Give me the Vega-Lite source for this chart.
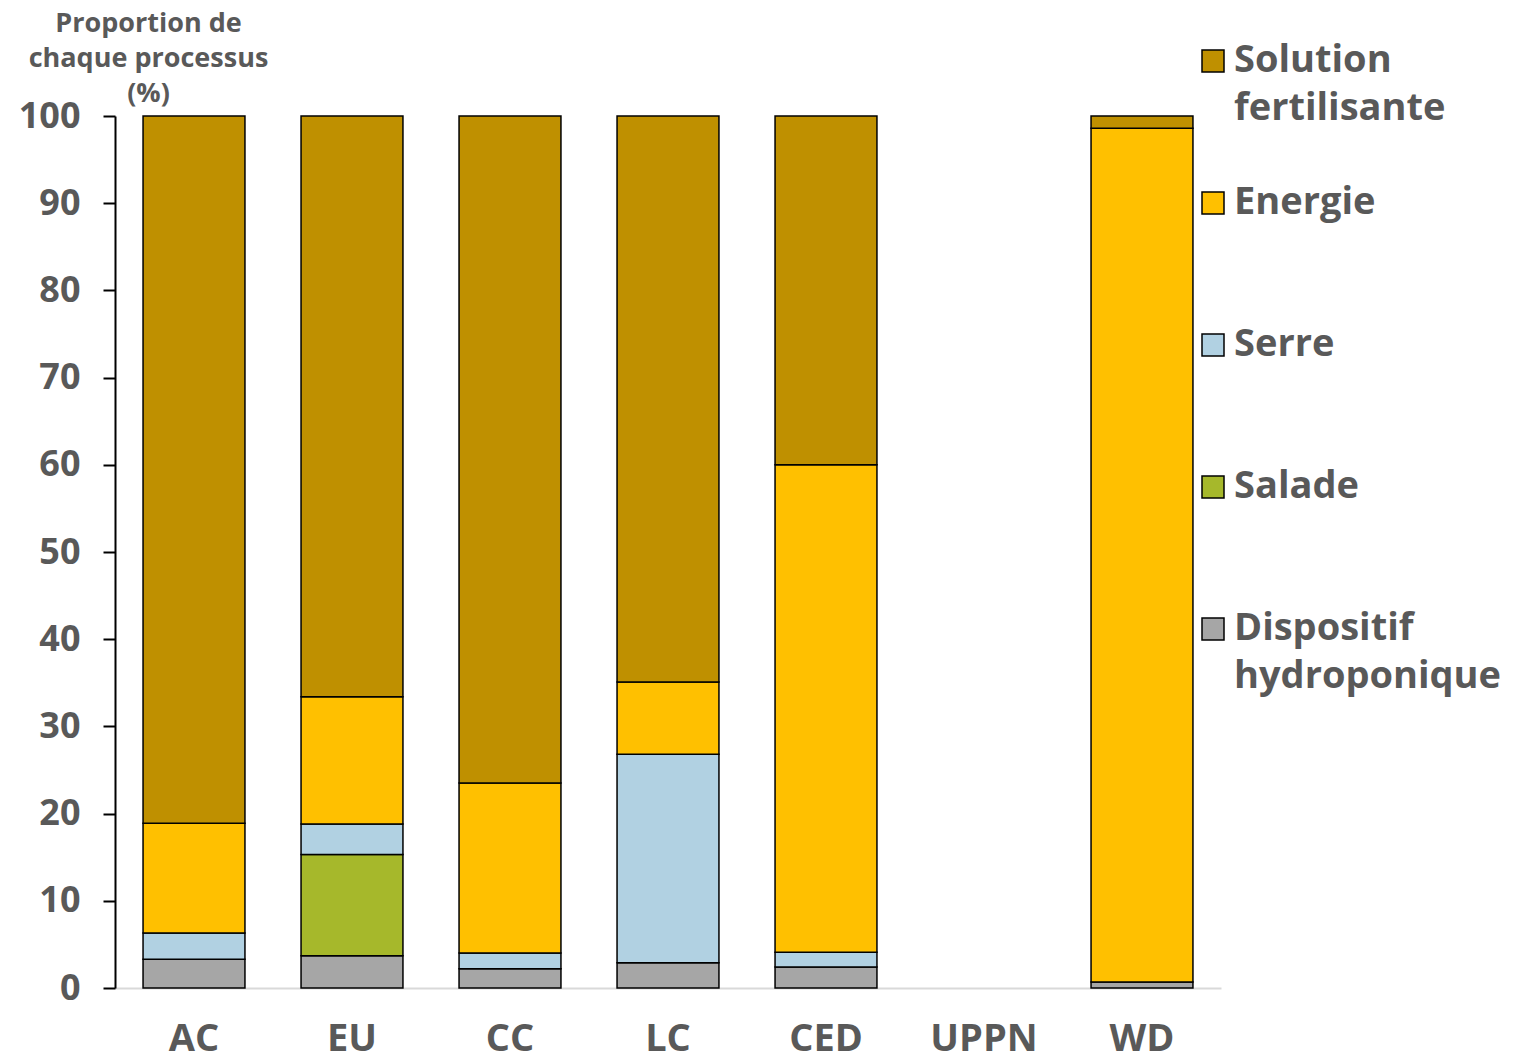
{
  "$schema": "https://vega.github.io/schema/vega-lite/v6.json",
  "autosize": {"type": "none"},
  "padding": {"left": 115, "top": 116, "right": 297, "bottom": 73},
  "width": 1106,
  "height": 872,
  "background": "white",
  "data": {
    "values": [
      {"site": "AC", "processus": "Dispositif hydroponique", "valeur": 3.3},
      {"site": "AC", "processus": "Serre", "valeur": 3.0},
      {"site": "AC", "processus": "Energie", "valeur": 12.6},
      {"site": "AC", "processus": "Solution fertilisante", "valeur": 81.1},
      {"site": "EU", "processus": "Dispositif hydroponique", "valeur": 3.7},
      {"site": "EU", "processus": "Salade", "valeur": 11.6},
      {"site": "EU", "processus": "Serre", "valeur": 3.5},
      {"site": "EU", "processus": "Energie", "valeur": 14.6},
      {"site": "EU", "processus": "Solution fertilisante", "valeur": 66.6},
      {"site": "CC", "processus": "Dispositif hydroponique", "valeur": 2.2},
      {"site": "CC", "processus": "Serre", "valeur": 1.8},
      {"site": "CC", "processus": "Energie", "valeur": 19.5},
      {"site": "CC", "processus": "Solution fertilisante", "valeur": 76.5},
      {"site": "LC", "processus": "Dispositif hydroponique", "valeur": 2.9},
      {"site": "LC", "processus": "Serre", "valeur": 23.9},
      {"site": "LC", "processus": "Energie", "valeur": 8.3},
      {"site": "LC", "processus": "Solution fertilisante", "valeur": 64.9},
      {"site": "CED", "processus": "Dispositif hydroponique", "valeur": 2.4},
      {"site": "CED", "processus": "Serre", "valeur": 1.7},
      {"site": "CED", "processus": "Energie", "valeur": 55.9},
      {"site": "CED", "processus": "Solution fertilisante", "valeur": 40.0},
      {"site": "WD", "processus": "Dispositif hydroponique", "valeur": 0.7},
      {"site": "WD", "processus": "Energie", "valeur": 97.9},
      {"site": "WD", "processus": "Solution fertilisante", "valeur": 1.4}
    ]
  },
  "transform": [
    {"calculate": "indexof(['Dispositif hydroponique', 'Salade', 'Serre', 'Energie', 'Solution fertilisante'], datum.processus)", "as": "ordre_empilement"}
  ],
  "mark": {"type": "bar", "stroke": "black", "strokeWidth": 1.5},
  "encoding": {
    "x": {
      "field": "site",
      "type": "nominal",
      "scale": {"domain": ["AC", "EU", "CC", "LC", "CED", "UPPN", "WD"], "paddingInner": 0.355, "paddingOuter": 0.1775},
      "axis": {
        "title": null,
        "labelAngle": 0,
        "labelFont": "Open Sans",
        "labelFontSize": 38,
        "labelFontWeight": "bold",
        "labelColor": "#595959",
        "labelPadding": 32,
        "ticks": false,
        "tickSize": 0,
        "domainColor": "#D9D9D9",
        "domainWidth": 2
      }
    },
    "y": {
      "field": "valeur",
      "type": "quantitative",
      "stack": "zero",
      "scale": {"domain": [0, 100], "nice": false},
      "axis": {
        "title": ["Proportion de", "chaque processus", "(%)"],
        "titleAngle": 0,
        "titleAlign": "center",
        "titleBaseline": "alphabetic",
        "titleX": 33,
        "titleY": -85,
        "titleLineHeight": 35,
        "titleFont": "Open Sans",
        "titleFontSize": 27,
        "titleFontWeight": "bold",
        "titleColor": "#595959",
        "values": [0, 10, 20, 30, 40, 50, 60, 70, 80, 90, 100],
        "grid": false,
        "domainColor": "black",
        "domainWidth": 2,
        "tickColor": "black",
        "tickWidth": 2,
        "tickSize": 12,
        "labelFont": "Open Sans",
        "labelFontSize": 36,
        "labelFontWeight": "bold",
        "labelColor": "#595959",
        "labelPadding": 23
      }
    },
    "order": {"field": "ordre_empilement", "type": "quantitative", "sort": "ascending"},
    "color": {
      "field": "processus",
      "type": "nominal",
      "sort": null,
      "scale": {
        "domain": ["Solution fertilisante", "Energie", "Serre", "Salade", "Dispositif hydroponique"],
        "range": ["#BF9000", "#FFC000", "#B1D1E2", "#A6B82B", "#A6A6A6"]
      },
      "legend": {
        "title": null,
        "orient": "none",
        "legendX": 1079,
        "legendY": -126,
        "padding": 0,
        "clipHeight": 142,
        "rowPadding": 0,
        "symbolType": "square",
        "symbolSize": 484,
        "symbolStrokeColor": "black",
        "symbolStrokeWidth": 1.5,
        "labelFont": "Open Sans",
        "labelFontSize": 38,
        "labelFontWeight": "bold",
        "labelColor": "#595959",
        "labelLimit": 400,
        "labelOffset": 2,
        "labelBaseline": "middle",
        "labelExpr": "datum.label == 'Solution fertilisante' ? ['Solution', 'fertilisante'] : datum.label == 'Dispositif hydroponique' ? ['Dispositif', 'hydroponique'] : datum.label"
      }
    }
  },
  "config": {
    "view": {"stroke": null},
    "style": {"guide-label": {"lineHeight": 48}}
  }
}
